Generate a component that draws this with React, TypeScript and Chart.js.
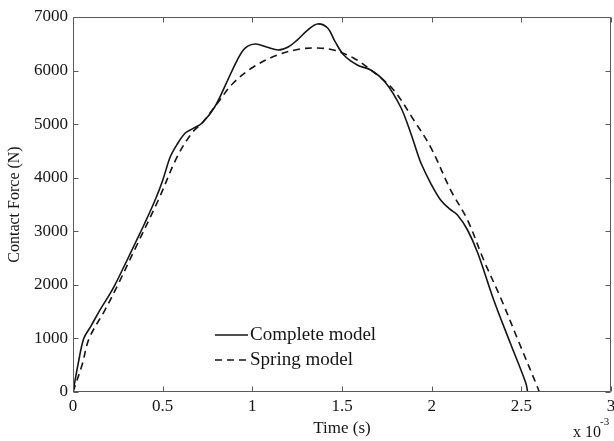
import React, { useEffect, useRef } from "react";
import { Chart, registerables } from "chart.js";

Chart.register(...registerables);

// Time in units of 1e-3 s
const completeTime = [0, 0.03, 0.06, 0.1, 0.15, 0.2, 0.234, 0.3, 0.35, 0.4, 0.458, 0.5, 0.542, 0.58, 0.626, 0.67, 0.72, 0.79, 0.85, 0.916, 0.96, 1.017, 1.08, 1.145, 1.2, 1.25, 1.31, 1.363, 1.42, 1.46, 1.51, 1.585, 1.66, 1.74, 1.827, 1.883, 1.92, 1.94, 1.994, 2.05, 2.1, 2.145, 2.2, 2.257, 2.346, 2.44, 2.525, 2.535];
const completeForce = [0, 550, 1000, 1230, 1530, 1800, 2000, 2450, 2800, 3150, 3584, 3950, 4386, 4620, 4835, 4920, 5021, 5320, 5730, 6197, 6420, 6496, 6440, 6384, 6440, 6570, 6760, 6870, 6795, 6550, 6290, 6104, 6010, 5787, 5320, 4835, 4460, 4275, 3900, 3584, 3420, 3300, 3024, 2595, 1717, 900, 168, 0];

const springTime = [0, 0.05, 0.09, 0.178, 0.25, 0.35, 0.476, 0.58, 0.663, 0.72, 0.79, 0.894, 1.006, 1.14, 1.268, 1.363, 1.453, 1.564, 1.676, 1.788, 1.9, 1.994, 2.106, 2.2, 2.29, 2.385, 2.49, 2.592, 2.6];
const springForce = [0, 500, 1000, 1530, 2000, 2700, 3584, 4386, 4835, 5020, 5320, 5768, 6067, 6290, 6403, 6420, 6384, 6235, 5973, 5637, 5077, 4573, 3770, 3210, 2464, 1755, 900, 75, 0];

const seriesLabels = ["Complete model", "Spring model"];
const xTickValues = [0, 0.5, 1, 1.5, 2, 2.5, 3];
const yTickValues = [0, 1000, 2000, 3000, 4000, 5000, 6000, 7000];

const FONT = "'Liberation Serif', 'Times New Roman', serif";
const AXIS = "#5a5a5a";
const INK = "#151515";

const decor = {
  id: "decor",
  afterDraw(chart: any) {
    const { ctx, chartArea: a, scales } = chart;
    const xs = scales.x;
    const ys = scales.y;
    ctx.save();
    ctx.strokeStyle = AXIS;
    ctx.lineWidth = 1;
    const L = Math.round(a.left) + 0.5;
    const R = Math.round(a.right) - 0.5;
    const T = Math.round(a.top) + 0.5;
    const B = Math.round(a.bottom) - 0.5;
    ctx.beginPath();
    ctx.rect(L, T, R - L, B - T);
    const tl = 5;
    xs.ticks.forEach((t: any) => {
      const px = Math.round(xs.getPixelForValue(t.value)) + 0.5;
      ctx.moveTo(px, B);
      ctx.lineTo(px, B - tl);
      ctx.moveTo(px, T);
      ctx.lineTo(px, T + tl);
    });
    ys.ticks.forEach((t: any) => {
      const py = Math.round(ys.getPixelForValue(t.value)) + 0.5;
      ctx.moveTo(L, py);
      ctx.lineTo(L + tl, py);
      ctx.moveTo(R, py);
      ctx.lineTo(R - tl, py);
    });
    ctx.stroke();

    // legend inside plot
    const lx0 = a.left + 142;
    const lx1 = a.left + 175;
    const rows = [a.top + 318, a.top + 343];
    chart.data.datasets.forEach((ds: any, i: number) => {
      const yy = rows[i];
      ctx.beginPath();
      ctx.strokeStyle = INK;
      ctx.lineWidth = 1.6;
      ctx.setLineDash(ds.borderDash || []);
      ctx.moveTo(lx0, yy);
      ctx.lineTo(lx1, yy);
      ctx.stroke();
      ctx.setLineDash([]);
      ctx.fillStyle = INK;
      ctx.font = `19px ${FONT}`;
      ctx.textBaseline = "middle";
      ctx.textAlign = "left";
      ctx.fillText(ds.label, lx1 + 2, yy);
    });

    // exponent label
    ctx.fillStyle = INK;
    ctx.textBaseline = "alphabetic";
    ctx.textAlign = "left";
    ctx.font = `16px ${FONT}`;
    ctx.fillText("x 10", a.right - 38, a.bottom + 45);
    ctx.font = `11px ${FONT}`;
    ctx.fillText("-3", a.right - 11, a.bottom + 33);
    ctx.restore();
  },
};

export default function App() {
  const ref = useRef<HTMLCanvasElement | null>(null);
  useEffect(() => {
    if (!ref.current) return;
    const chart = new Chart(ref.current, {
      type: "line",
      data: {
        datasets: [
          {
            label: seriesLabels[0],
            data: completeTime.map((t, i) => ({ x: t, y: completeForce[i] })),
            borderColor: INK,
            borderWidth: 1.6,
            pointRadius: 0,
            fill: false,
            tension: 0.35,
          },
          {
            label: seriesLabels[1],
            data: springTime.map((t, i) => ({ x: t, y: springForce[i] })),
            borderColor: INK,
            borderWidth: 1.6,
            borderDash: [7, 5],
            pointRadius: 0,
            fill: false,
            tension: 0.35,
          },
        ],
      },
      options: {
        animation: false,
        responsive: false,
        layout: { padding: { top: 17, right: 3, left: 0, bottom: 0 } },
        plugins: {
          legend: { display: false },
          tooltip: { enabled: false },
        },
        scales: {
          x: {
            type: "linear",
            min: 0,
            max: 3,
            afterBuildTicks: (s: any) => {
              s.ticks = xTickValues.map((v) => ({ value: v }));
            },
            afterFit: (s: any) => {
              s.height = 49;
              s.paddingLeft = 0;
              s.paddingRight = 0;
            },
            grid: { display: false, drawTicks: false },
            border: { display: false },
            ticks: {
              color: INK,
              font: { family: FONT, size: 17 },
              padding: 4,
              maxRotation: 0,
              autoSkip: false,
              callback: (v: any) => String(v),
            },
            title: {
              display: true,
              text: "Time (s)",
              color: INK,
              font: { family: FONT, size: 17 },
              padding: { top: 0, bottom: 2 },
            },
          },
          y: {
            type: "linear",
            min: 0,
            max: 7000,
            afterBuildTicks: (s: any) => {
              s.ticks = yTickValues.map((v) => ({ value: v }));
            },
            afterFit: (s: any) => {
              s.width = 73;
              s.paddingTop = 0;
              s.paddingBottom = 0;
            },
            grid: { display: false, drawTicks: false },
            border: { display: false },
            ticks: {
              color: INK,
              font: { family: FONT, size: 17 },
              padding: 5,
              autoSkip: false,
              callback: (v: any) => String(v),
            },
            title: {
              display: true,
              text: "Contact Force (N)",
              color: INK,
              font: { family: FONT, size: 16 },
              padding: { top: 5, bottom: 0 },
            },
          },
        },
      },
      plugins: [decor],
    } as any);
    return () => chart.destroy();
  }, []);
  return (
    <div style={{ position: "absolute", left: 0, top: 0, width: 614, height: 441, background: "#fff" }}>
      <canvas ref={ref} width={614} height={441} style={{ width: 614, height: 441, display: "block" }} />
    </div>
  );
}
